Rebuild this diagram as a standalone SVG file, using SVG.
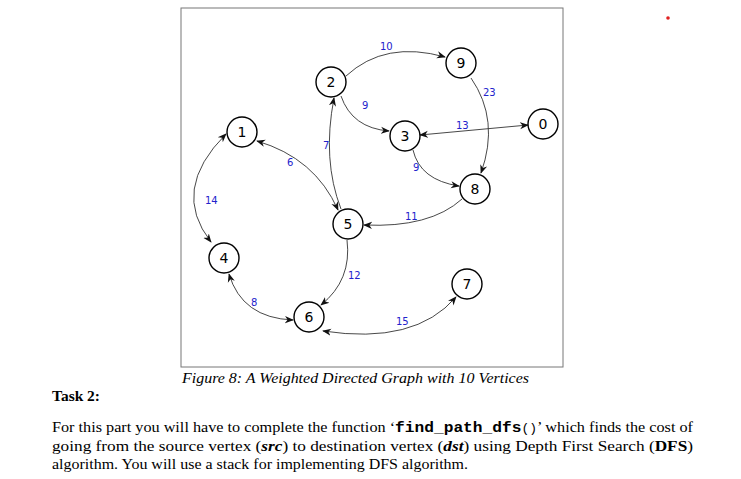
<svg xmlns="http://www.w3.org/2000/svg" width="741" height="479" viewBox="0 0 741 479">
<style>
.n circle{fill:#fff;stroke:#000;stroke-width:1.4}
.n text{font-family:"DejaVu Sans",sans-serif;font-size:14px;text-anchor:middle;dominant-baseline:central}
.e path{fill:none;stroke:#333;stroke-width:0.9}
.w{font-family:"DejaVu Sans",sans-serif;font-size:10px;fill:#2222cc}
.t{font-family:"Liberation Serif",serif;font-size:15px}
</style>
<defs>
<marker id="a" viewBox="0 0 10 10" refX="9" refY="5" markerWidth="9" markerHeight="9" orient="auto-start-reverse" markerUnits="userSpaceOnUse"><path d="M0,1 L10,5 L0,9 L3,5 Z" fill="#111"/></marker>
</defs>
<rect width="741" height="479" fill="#fff"/>
<rect x="181" y="8" width="382" height="359" fill="none" stroke="#777" stroke-width="1"/>
<circle cx="668" cy="18" r="1.8" fill="#e02020"/>
<g id="edges" class="e">
<path d="M346,76 Q385,40 445,57" marker-end="url(#a)"/>
<path d="M341,96 Q352,128 389,131" marker-end="url(#a)"/>
<path d="M471,78 Q500,120 481,173" marker-end="url(#a)"/>
<path d="M420,135 L528,125" marker-start="url(#a)" marker-end="url(#a)"/>
<path d="M413,150 Q420,180 459,186" marker-end="url(#a)"/>
<path d="M462,199 Q430,228 364,225" marker-end="url(#a)"/>
<path d="M341,209 Q322,160 334,98" marker-end="url(#a)"/>
<path d="M257,141 Q315,158 338,210" marker-start="url(#a)" marker-end="url(#a)"/>
<path d="M226,134 Q170,190 211,242" marker-start="url(#a)" marker-end="url(#a)"/>
<path d="M347,240 Q352,280 321,305" marker-end="url(#a)"/>
<path d="M229,274 Q242,318 293,320" marker-start="url(#a)" marker-end="url(#a)"/>
<path d="M323,331 Q415,345 456,297" marker-start="url(#a)" marker-end="url(#a)"/>
<text class="w" x="380" y="50">10</text>
<text class="w" x="362" y="109">9</text>
<text class="w" x="483" y="96">23</text>
<text class="w" x="456" y="129">13</text>
<text class="w" x="413" y="171">9</text>
<text class="w" x="405" y="220">11</text>
<text class="w" x="323" y="149">7</text>
<text class="w" x="287" y="166">6</text>
<text class="w" x="205" y="204">14</text>
<text class="w" x="348" y="279">12</text>
<text class="w" x="251" y="306">8</text>
<text class="w" x="396" y="325">15</text>
</g>
<g id="n0" class="n"><circle cx="543" cy="124" r="15"/><text x="543" y="124">0</text></g>
<g id="n1" class="n"><circle cx="242" cy="132" r="15"/><text x="242" y="132">1</text></g>
<g id="n2" class="n"><circle cx="331" cy="82" r="15"/><text x="331" y="82">2</text></g>
<g id="n3" class="n"><circle cx="405" cy="136" r="15"/><text x="405" y="136">3</text></g>
<g id="n4" class="n"><circle cx="224" cy="258" r="15"/><text x="224" y="258">4</text></g>
<g id="n5" class="n"><circle cx="348" cy="224" r="15"/><text x="348" y="224">5</text></g>
<g id="n6" class="n"><circle cx="309" cy="317" r="15"/><text x="309" y="317">6</text></g>
<g id="n7" class="n"><circle cx="467" cy="284" r="15"/><text x="467" y="284">7</text></g>
<g id="n8" class="n"><circle cx="475" cy="189" r="15"/><text x="475" y="189">8</text></g>
<g id="n9" class="n"><circle cx="461" cy="63" r="15"/><text x="461" y="63">9</text></g>
<text class="t" x="182" y="383" font-style="italic" textLength="347" lengthAdjust="spacingAndGlyphs">Figure 8: A Weighted Directed Graph with 10 Vertices</text>
<text class="t" x="52" y="401" font-weight="bold" textLength="48" lengthAdjust="spacingAndGlyphs">Task 2:</text>
<text class="t" x="52" y="432" textLength="641" lengthAdjust="spacingAndGlyphs">For this part you will have to complete the function ‘<tspan font-family="Liberation Mono,monospace" font-weight="bold">find_path_dfs</tspan><tspan font-family="Liberation Mono,monospace" font-size="12">()</tspan>’ which finds the cost of</text>
<text class="t" x="52" y="451" textLength="641" lengthAdjust="spacingAndGlyphs">going from the source vertex (<tspan font-weight="bold" font-style="italic">src</tspan>) to destination vertex (<tspan font-weight="bold" font-style="italic">dst</tspan>) using Depth First Search (<tspan font-weight="bold">DFS</tspan>)</text>
<text class="t" x="52" y="469" textLength="416" lengthAdjust="spacingAndGlyphs">algorithm. You will use a stack for implementing DFS algorithm.</text>
</svg>
